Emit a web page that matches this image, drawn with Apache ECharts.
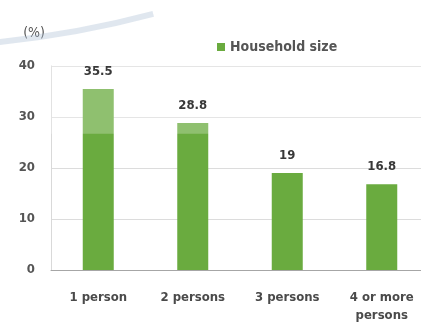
<!DOCTYPE html>
<html>
<head>
<meta charset="utf-8">
<style>
  html, body { margin: 0; padding: 0; background: #fff; }
  #chart { width: 421px; height: 324px; }
</style>
<script src="https://cdn.jsdelivr.net/npm/echarts@6/dist/echarts.min.js"></script>
</head>
<body>
<div id="chart"></div>
<script>
// Share of households by household size (%)
const categories = ['1 person', '2 persons', '3 persons', '4 or more\npersons'];
const shares = [35.5, 28.8, 19, 16.8];
const yTicks = [0, 10, 20, 30, 40];

const FONT = "'DejaVu Sans Condensed', 'Liberation Sans Narrow', 'Arial Narrow', sans-serif";
const GREEN = '#6aab3f';

const chart = echarts.init(document.getElementById('chart'), null, { renderer: 'canvas' });
chart.setOption({
  animation: false,
  backgroundColor: '#ffffff',
  grid: { left: 51, width: 378, top: 66, bottom: 54, containLabel: false, outerBoundsMode: 'none' },
  legend: {
    data: ['Household size'],
    left: 212, top: 35,
    itemWidth: 8, itemHeight: 8, itemGap: 5,
    icon: 'rect',
    textStyle: { color: '#555', fontFamily: FONT, fontWeight: 'bold', fontSize: 14 }
  },
  xAxis: {
    type: 'category',
    data: categories,
    axisLine: { lineStyle: { color: '#a6a6a6', width: 1 } },
    axisTick: { show: false },
    axisLabel: {
      color: '#4a4a4a', fontFamily: FONT, fontWeight: 'bold', fontSize: 13,
      margin: 19, lineHeight: 18, interval: 0
    }
  },
  yAxis: {
    type: 'value',
    min: yTicks[0], max: yTicks[yTicks.length - 1], interval: 10,
    name: '(%)',
    nameLocation: 'end',
    nameGap: 26,
    nameTextStyle: { color: '#555', fontFamily: FONT, fontSize: 14, align: 'right', padding: [0, 6, 0, 0] },
    axisLine: { show: true, lineStyle: { color: '#d9d9d9' } },
    axisTick: { show: false },
    axisLabel: { color: '#555', fontFamily: FONT, fontWeight: 'bold', fontSize: 13, margin: 16 },
    splitLine: { lineStyle: { color: '#dcdcdc', width: 1 } }
  },
  series: [{
    name: 'Household size',
    type: 'bar',
    data: shares,
    barWidth: 31,
    itemStyle: { color: GREEN }
  }, {
    // faded band across the upper part of the plot, drawn above the bars
    type: 'line',
    data: shares,
    z: 10,
    silent: true,
    symbol: 'none',
    lineStyle: { opacity: 0 },
    tooltip: { show: false },
    markArea: {
      z: 10,
      silent: true,
      itemStyle: { color: 'rgba(255,255,255,0.25)' },
      data: [[{ yAxis: 26.7 }, { yAxis: 40 }]]
    }
  }, {
    // value labels above each bar, kept on top of the band
    type: 'scatter',
    data: shares,
    z: 20,
    silent: true,
    symbolSize: 0,
    itemStyle: { opacity: 1 },
    label: {
      show: true, position: 'top', distance: 11,
      formatter: (p) => String(p.value),
      color: '#383838', fontFamily: FONT, fontWeight: 'bold', fontSize: 13
    }
  }],
  graphic: [{
    type: 'arc',
    z: 100,
    shape: { cx: -100, cy: -938, r: 985, startAngle: Math.PI / 2 - 0.26, endAngle: Math.PI / 2 - 0.05 },
    style: { stroke: 'rgba(165,185,210,0.35)', lineWidth: 6, fill: null },
    silent: true
  }]
});
</script>
</body>
</html>
